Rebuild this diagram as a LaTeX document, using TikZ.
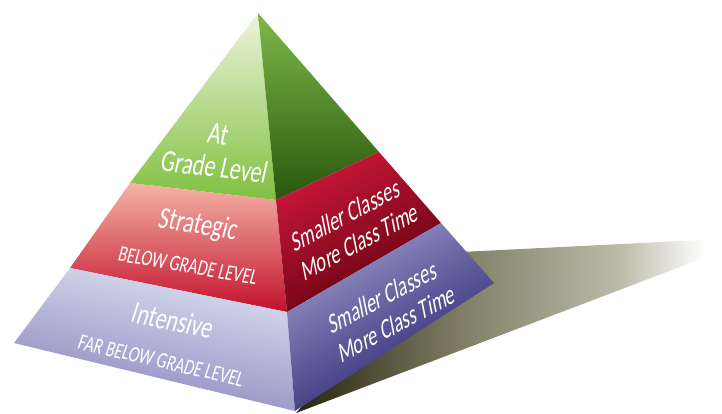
\documentclass[tikz,border=0pt]{standalone}
\usepackage{fontspec}
\setmainfont{Carlito}
\newfontfamily\lfacefont[FakeSlant=0.1, FakeStretch=0.72]{Carlito}
\newfontfamily\rfacefont[FakeSlant=0.3, FakeStretch=0.72]{Carlito}

\definecolor{grnTop}{HTML}{EDF4DA}
\definecolor{grnMid}{HTML}{A8D278}
\definecolor{grnBot}{HTML}{80C040}
\definecolor{grnDkTop}{HTML}{7CBA48}
\definecolor{grnDkMid}{HTML}{4A8026}
\definecolor{grnDkBot}{HTML}{2A560E}
\definecolor{redTop}{HTML}{F4B4A6}
\definecolor{redMid}{HTML}{C8142F}
\definecolor{redBot}{HTML}{C2102C}
\definecolor{redDkTop}{HTML}{CC1838}
\definecolor{redDkBot}{HTML}{5C000E}
\definecolor{bluTop}{HTML}{DCE3F2}
\definecolor{bluMid}{HTML}{ABA8D3}
\definecolor{bluBot}{HTML}{8A82BC}
\definecolor{bluDkTop}{HTML}{9C98CC}
\definecolor{bluDkBot}{HTML}{1E1A66}
\definecolor{shDark}{HTML}{26240E}
\definecolor{shMid}{HTML}{7E7D64}
\definecolor{shLight}{HTML}{BCBBA8}

\pgfdeclarehorizontalshading{shadowfade}{100bp}{color(0bp)=(shDark); color(25bp)=(shDark);
  color(44bp)=(shMid); color(63bp)=(shLight); color(73bp)=(white); color(100bp)=(white)}

% tilted, centred lines of text on a face
\newcommand\facetext[2]{\rotatebox{#1}{\begin{tabular}{@{}c@{}}#2\end{tabular}}}

\begin{document}
\begin{tikzpicture}[x=1pt, y=-1pt,
    facelbl/.style={text=white, inner sep=0pt},
    tiername/.style={facelbl, font=\lfacefont\fontsize{31}{33}\selectfont},
    tiersub/.style={facelbl, font=\lfacefont\fontsize{22.5}{24}\selectfont},
    tierside/.style={facelbl, font=\rfacefont\fontsize{27}{30}\selectfont}]

  \useasboundingbox (0,0) rectangle (722,413);

  \coordinate (A)  at (258,13);  %% apex
  \coordinate (L1) at (130,183); %% left edge
  \coordinate (L2) at (70,268);
  \coordinate (L3) at (14,343);
  \coordinate (F1) at (276,200); %% front edge
  \coordinate (F2) at (287,312);
  \coordinate (F3) at (295,411);
  \coordinate (R1) at (379,152); %% right edge
  \coordinate (R2) at (441,223);
  \coordinate (R3) at (494,283);

  %% shadow
  \shade[shading=shadowfade] (296,413) -- (441,253) -- (722,239) -- (722,251) -- cycle;

  %% left faces
  \shade[top color=grnTop, middle color=grnMid, bottom color=grnBot] (A) -- (L1) -- (F1) -- cycle;
  \shade[top color=redTop, middle color=redMid, bottom color=redBot] (L1) -- (F1) -- (F2) -- (L2) -- cycle;
  \shade[top color=bluTop, middle color=bluMid, bottom color=bluBot, shading angle=-12] (L2) -- (F2) -- (F3) -- (L3) -- cycle;

  %% right faces
  \shade[top color=grnDkTop, middle color=grnDkMid, bottom color=grnDkBot] (A) -- (F1) -- (R1) -- cycle;
  \shade[top color=redDkTop, bottom color=redDkBot, shading angle=28] (F1) -- (R1) -- (R2) -- (F2) -- cycle;
  \shade[top color=bluDkTop, bottom color=bluDkBot, shading angle=30] (F2) -- (R2) -- (R3) -- (F3) -- cycle;

  %% labels
  \node[tiername] (atlvl) at (215,154) {\facetext{-7}{At\\Grade Level}};
  \node[tiername] (strat) at (197,227) {\facetext{-9}{Strategic}};
  \node[tiersub] (below) at (187,268) {\facetext{-10}{BELOW GRADE LEVEL}};
  \node[tiername] (inten) at (171,324) {\facetext{-12}{Intensive}};
  \node[tiersub] (farbelow) at (160,363) {\facetext{-13}{FAR BELOW GRADE LEVEL}};
  \node[tierside] (redside) at (352,232) {\facetext{28}{Smaller Classes\\More Class Time}};
  \node[tierside] (bluside) at (389,314) {\facetext{28}{Smaller Classes\\More Class Time}};
\end{tikzpicture}
\end{document}
